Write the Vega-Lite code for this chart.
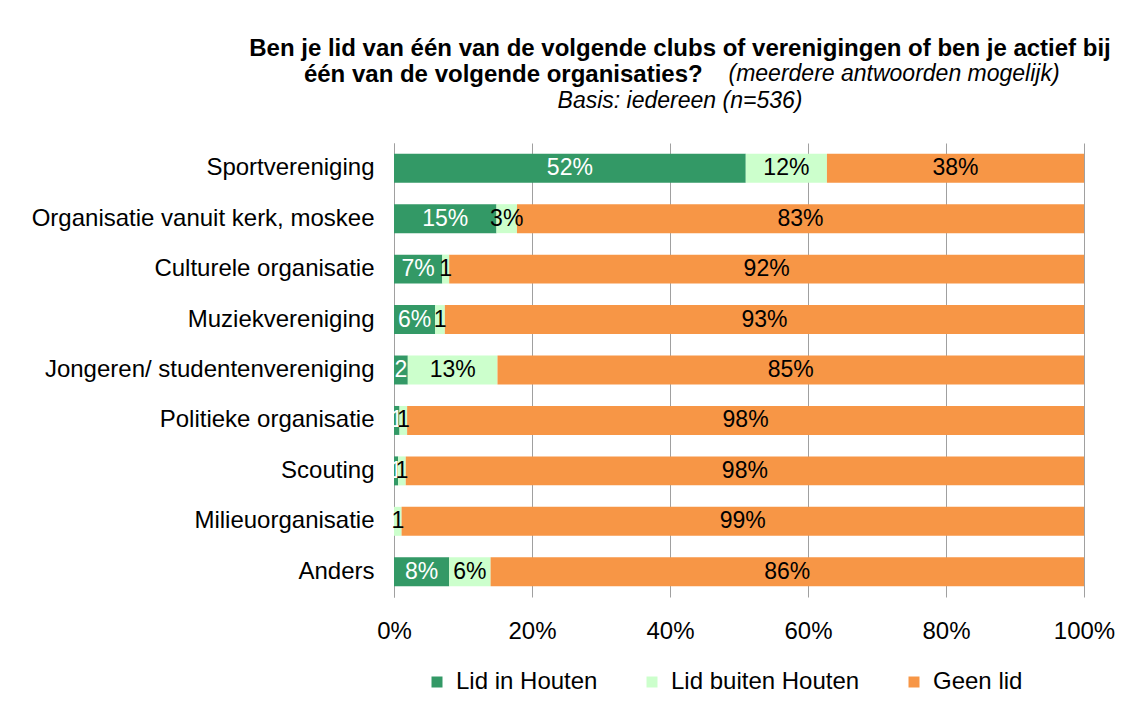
{
  "$schema": "https://vega.github.io/schema/vega-lite/v6.json",
  "autosize": {"type": "none"},
  "padding": {"left": 394, "top": 143, "right": 51, "bottom": 107},
  "width": 690,
  "height": 454,
  "background": "white",
  "title": {
    "text": ["Ben je lid van één van de volgende clubs of verenigingen of ben je actief bij", "één van de volgende organisaties?\u00a0\u00a0\u00a0\u00a0\u00a0\u00a0\u00a0\u00a0\u00a0\u00a0\u00a0\u00a0\u00a0\u00a0\u00a0\u00a0\u00a0\u00a0\u00a0\u00a0\u00a0\u00a0\u00a0\u00a0\u00a0\u00a0\u00a0\u00a0\u00a0\u00a0\u00a0\u00a0\u00a0\u00a0\u00a0\u00a0\u00a0\u00a0\u00a0\u00a0\u00a0\u00a0\u00a0\u00a0\u00a0\u00a0\u00a0\u00a0\u00a0\u00a0\u00a0\u00a0\u00a0\u200b"],
    "subtitle": ["\u200b\u00a0\u00a0\u00a0\u00a0\u00a0\u00a0\u00a0\u00a0\u00a0\u00a0\u00a0\u00a0\u00a0\u00a0\u00a0\u00a0\u00a0\u00a0\u00a0\u00a0\u00a0\u00a0\u00a0\u00a0\u00a0\u00a0\u00a0\u00a0\u00a0\u00a0\u00a0\u00a0\u00a0\u00a0\u00a0\u00a0\u00a0\u00a0\u00a0\u00a0\u00a0\u00a0\u00a0\u00a0\u00a0\u00a0\u00a0\u00a0\u00a0\u00a0\u00a0\u00a0\u00a0\u00a0\u00a0\u00a0\u00a0\u00a0\u00a0\u00a0\u00a0\u00a0\u00a0\u00a0\u00a0\u00a0\u00a0(meerdere antwoorden mogelijk)", "Basis: iedereen (n=536)"],
    "anchor": "middle",
    "frame": "group",
    "dx": -59,
    "offset": 30,
    "font": "Liberation Sans",
    "fontSize": 24,
    "fontWeight": "bold",
    "lineHeight": 26,
    "color": "black",
    "subtitleFont": "Liberation Sans",
    "subtitleFontSize": 23,
    "subtitleFontStyle": "italic",
    "subtitleLineHeight": 27,
    "subtitlePadding": -24,
    "subtitleColor": "black"
  },
  "data": {
    "values": [
      {"category": "Sportvereniging", "series": "Lid in Houten", "order": 1, "value": 52, "label": "52%"},
      {"category": "Sportvereniging", "series": "Lid buiten Houten", "order": 2, "value": 12, "label": "12%"},
      {"category": "Sportvereniging", "series": "Geen lid", "order": 3, "value": 38, "label": "38%"},
      {"category": "Organisatie vanuit kerk, moskee", "series": "Lid in Houten", "order": 1, "value": 15, "label": "15%"},
      {"category": "Organisatie vanuit kerk, moskee", "series": "Lid buiten Houten", "order": 2, "value": 3, "label": "3%"},
      {"category": "Organisatie vanuit kerk, moskee", "series": "Geen lid", "order": 3, "value": 83, "label": "83%"},
      {"category": "Culturele organisatie", "series": "Lid in Houten", "order": 1, "value": 7, "label": "7%"},
      {"category": "Culturele organisatie", "series": "Lid buiten Houten", "order": 2, "value": 1, "label": "1"},
      {"category": "Culturele organisatie", "series": "Geen lid", "order": 3, "value": 92, "label": "92%"},
      {"category": "Muziekvereniging", "series": "Lid in Houten", "order": 1, "value": 6, "label": "6%"},
      {"category": "Muziekvereniging", "series": "Lid buiten Houten", "order": 2, "value": 1.4, "label": "1"},
      {"category": "Muziekvereniging", "series": "Geen lid", "order": 3, "value": 93, "label": "93%"},
      {"category": "Jongeren/ studentenvereniging", "series": "Lid in Houten", "order": 1, "value": 2, "label": "2"},
      {"category": "Jongeren/ studentenvereniging", "series": "Lid buiten Houten", "order": 2, "value": 13, "label": "13%"},
      {"category": "Jongeren/ studentenvereniging", "series": "Geen lid", "order": 3, "value": 85, "label": "85%"},
      {"category": "Politieke organisatie", "series": "Lid in Houten", "order": 1, "value": 0.8, "label": "1"},
      {"category": "Politieke organisatie", "series": "Lid buiten Houten", "order": 2, "value": 1.1, "label": "1"},
      {"category": "Politieke organisatie", "series": "Geen lid", "order": 3, "value": 98, "label": "98%"},
      {"category": "Scouting", "series": "Lid in Houten", "order": 1, "value": 0.6, "label": "1"},
      {"category": "Scouting", "series": "Lid buiten Houten", "order": 2, "value": 1.1, "label": "1"},
      {"category": "Scouting", "series": "Geen lid", "order": 3, "value": 98, "label": "98%"},
      {"category": "Milieuorganisatie", "series": "Lid in Houten", "order": 1, "value": 0, "label": ""},
      {"category": "Milieuorganisatie", "series": "Lid buiten Houten", "order": 2, "value": 1.1, "label": "1"},
      {"category": "Milieuorganisatie", "series": "Geen lid", "order": 3, "value": 99, "label": "99%"},
      {"category": "Anders", "series": "Lid in Houten", "order": 1, "value": 8, "label": "8%"},
      {"category": "Anders", "series": "Lid buiten Houten", "order": 2, "value": 6, "label": "6%"},
      {"category": "Anders", "series": "Geen lid", "order": 3, "value": 86, "label": "86%"}
    ]
  },
  "transform": [
    {"stack": "value", "groupby": ["category"], "sort": [{"field": "order", "order": "ascending"}], "offset": "normalize", "as": ["v0", "v1"]},
    {"calculate": "(datum.v0 + datum.v1) / 2", "as": "mid"}
  ],
  "encoding": {
    "y": {
      "field": "category",
      "type": "nominal",
      "sort": ["Sportvereniging", "Organisatie vanuit kerk, moskee", "Culturele organisatie", "Muziekvereniging", "Jongeren/ studentenvereniging", "Politieke organisatie", "Scouting", "Milieuorganisatie", "Anders"],
      "scale": {"paddingInner": 0.426, "paddingOuter": 0.213},
      "axis": {"title": null, "ticks": false, "domain": true, "domainColor": "#A0A0A0", "labelPadding": 20, "labelFontSize": 24, "labelFont": "Liberation Sans", "labelColor": "black", "labelLimit": 400}
    }
  },
  "layer": [
    {
      "mark": {"type": "bar"},
      "encoding": {
        "x": {
          "field": "v0",
          "type": "quantitative",
          "scale": {"domain": [0, 1], "nice": false},
          "axis": {"title": null, "format": ".0%", "values": [0, 0.2, 0.4, 0.6, 0.8, 1], "domain": false, "ticks": false, "grid": true, "gridColor": "#A0A0A0", "gridWidth": 1, "labelPadding": 22, "labelFontSize": 24, "labelFont": "Liberation Sans", "labelColor": "black", "labelFlush": false}
        },
        "x2": {"field": "v1"},
        "color": {
          "field": "series",
          "type": "nominal",
          "scale": {"domain": ["Lid in Houten", "Lid buiten Houten", "Geen lid"], "range": ["#339966", "#CCFFCC", "#F79646"]},
          "legend": {"title": null, "orient": "none", "legendX": 31, "legendY": 527, "direction": "horizontal", "symbolType": "square", "symbolSize": 121, "symbolStrokeWidth": 0, "labelFontSize": 24, "labelFont": "Liberation Sans", "labelColor": "black", "labelLimit": 400, "columnPadding": 42, "labelOffset": 7}
        }
      }
    },
    {
      "mark": {"type": "text", "font": "Liberation Sans", "fontSize": 23, "align": "center", "baseline": "middle"},
      "encoding": {
        "x": {"field": "mid", "type": "quantitative"},
        "text": {"field": "label"},
        "color": {"condition": {"test": "datum.series === 'Lid in Houten'", "value": "white"}, "value": "black"}
      }
    }
  ],
  "config": {"view": {"stroke": null}}
}
